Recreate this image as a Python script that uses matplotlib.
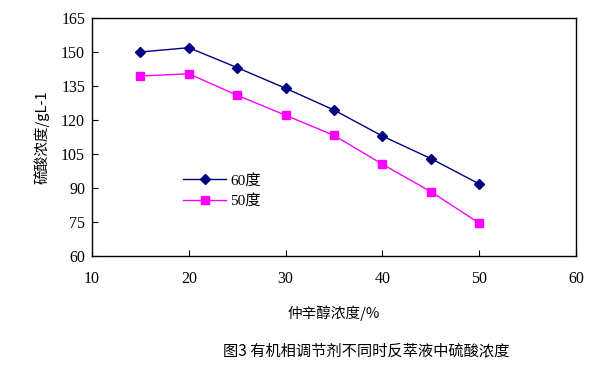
import matplotlib
matplotlib.use("Agg")
import matplotlib.pyplot as plt

x = [15, 20, 25, 30, 35, 40, 45, 50]
s60 = [150.0, 151.9, 143.1, 134.0, 124.4, 112.9, 103.0, 91.8]
s50 = [139.4, 140.4, 130.9, 122.1, 113.2, 100.5, 88.4, 74.5]
xticks = [10, 20, 30, 40, 50, 60]
yticks = [60, 75, 90, 105, 120, 135, 150, 165]

plt.rcParams['font.family'] = ['Liberation Serif', 'Noto Sans CJK SC', 'DejaVu Sans']

fig = plt.figure(figsize=(6.15, 3.73), dpi=100)
ax = fig.add_axes([92/615, 1-256/373, (576-92)/615, (256-18)/373])
ax.plot(x, s60, color='#000080', lw=1, marker='D', ms=5, label='60度')
ax.plot(x, s50, color='#FF00FF', lw=1, marker='s', ms=6, label='50度')
ax.set_xlim(10, 60)
ax.set_ylim(60, 165)
ax.set_xticks(xticks)
ax.set_yticks(yticks)
ax.tick_params(direction='in', length=4, labelsize=11.5, pad=11)
ax.tick_params(axis='y', pad=5)
for sp in ax.spines.values():
    sp.set_linewidth(1)
ax.set_xlabel('仲辛醇浓度/%', fontsize=10.5, family=['Noto Sans CJK SC', 'DejaVu Sans'], labelpad=13)
ax.set_ylabel('硫酸浓度/gL-1', fontsize=10.5, family=['Noto Sans CJK SC', 'DejaVu Sans'], labelpad=8)
leg = ax.legend(loc='upper left', bbox_to_anchor=(0.16, 0.405), frameon=False,
                handlelength=2.8, handletextpad=0.3, labelspacing=0.45,
                prop={'family': ['Liberation Serif', 'Noto Sans CJK SC'], 'size': 11})
fig.text(366/615, 1-351/373, '图3 有机相调节剂不同时反萃液中硫酸浓度', ha='center', va='center',
         fontsize=11, family=['Noto Sans CJK SC', 'DejaVu Sans'])
fig.savefig('out.png', dpi=100)
